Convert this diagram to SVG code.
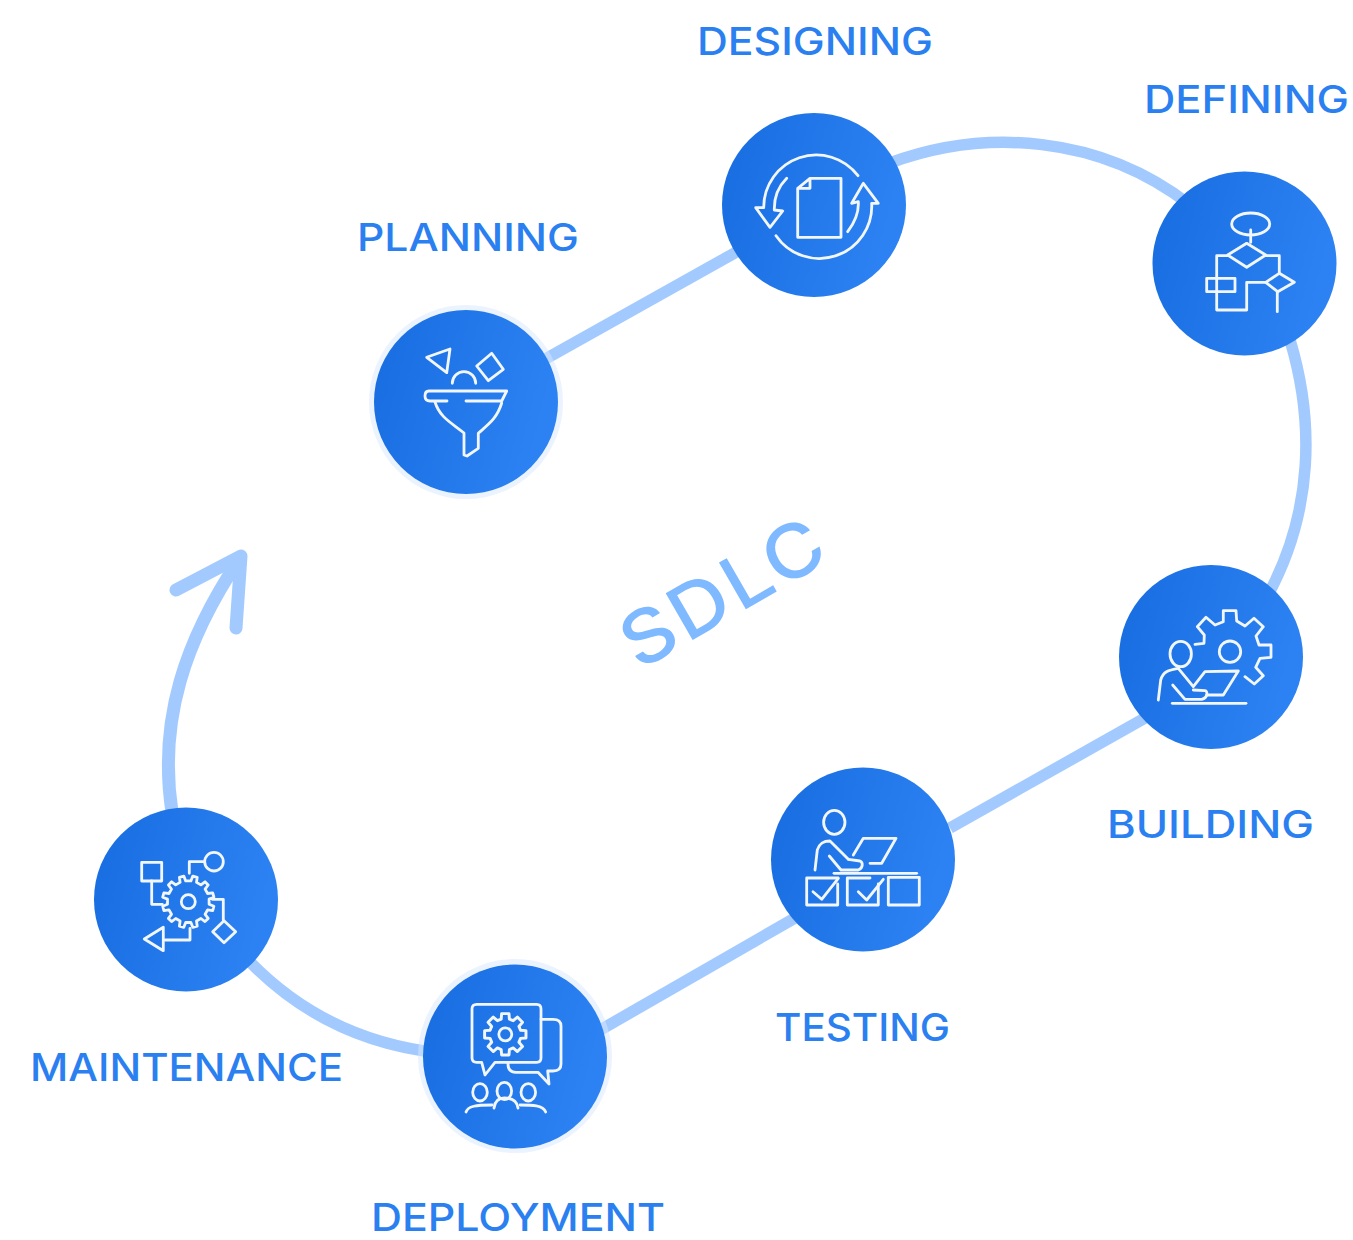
<svg xmlns="http://www.w3.org/2000/svg" width="1353" height="1240" viewBox="0 0 1353 1240">
<style>
.lbl{font-family:"Inter","Open Sans","Liberation Sans",sans-serif;font-size:38px;font-weight:550;fill:#2a80f0}
.sdlc{font-family:"Inter","Open Sans","Liberation Sans",sans-serif;font-size:74px;font-weight:550;letter-spacing:3px;fill:#7fb9ff}
.conn{fill:none;stroke:#a3caff;stroke-width:11.5}
.arr{stroke-width:13;stroke-linecap:round;stroke-linejoin:round}
.ic{fill:none;stroke:#f2f7ff;stroke-width:2.8;stroke-linejoin:round;stroke-linecap:round}
.halo{fill:#d8e8ff;opacity:.5}
</style>
<defs>
<linearGradient id="g" x1="0" y1="0" x2="1" y2="0.25"><stop offset="0" stop-color="#176ce0"/><stop offset="1" stop-color="#2c82f2"/></linearGradient>
</defs>
<rect width="1353" height="1240" fill="#fff"/>
<g id="connectors">
<path class="conn" d="M540,362L740,250"/>
<path class="conn" d="M890,163C985,128 1100,135 1190,205"/>
<path class="conn" d="M1290,340C1314,420 1314,510 1268,595"/>
<path class="conn" d="M1145,718L950,828"/>
<path class="conn" d="M795,918L595,1033"/>
<path class="conn" d="M440,1053C355,1044 295,1008 250,962"/>
<path class="conn arr" d="M172,812C158,720 185,640 240,558"/>
<path class="conn arr" d="M176,590L241,556L236,628"/>
</g>
<text class="sdlc" x="639" y="671" transform="rotate(-30 639 671)" textLength="226" lengthAdjust="spacingAndGlyphs">SDLC</text>
<g id="planning">
<circle class="halo" cx="466" cy="402" r="97"/><circle cx="466" cy="402" r="92" fill="url(#g)"/>
<g class="ic">
<path d="M426.7,357.3L450,349L446.7,372.7Z"/>
<path d="M491.7,353.3L503.3,369.3L488.3,380.7L476.7,366Z"/>
<path d="M452.3,383.3A11.7,11.7 0 0 1 475.7,383.3"/>
<path d="M447,401H430Q425,401 425,396Q425,391 429,391H506.7L501.7,401H466"/>
<path d="M435,402C440,418 452,423 464,433V455L467,456L478.3,448.3V433.3C490,423 497,418 501.7,403"/>
</g>
<text class="lbl" x="357" y="251" textLength="222" lengthAdjust="spacingAndGlyphs">PLANNING</text>
</g>
<g id="designing">
<circle cx="814" cy="205" r="92" fill="url(#g)"/>
<g class="ic">
<path d="M858,175.7A52.5,52.5 0 0 0 763.7,207.7H755.7L770,227.3L782.7,211L774.3,210C774,198 778,187 786.7,178.3"/>
<path d="M776,235.7A52.5,52.5 0 0 0 871.7,203.3H878.3L863.3,183.3L851.7,203.3L858.3,201.7C859,212 855,222 847.7,231.7"/>
<path d="M810,178.3H841V237.3H797.7V188.3ZM810,178.3V188.3H797.7"/>
</g>
<text class="lbl" x="697" y="55" textLength="236" lengthAdjust="spacingAndGlyphs">DESIGNING</text>
</g>
<g id="defining">
<circle cx="1244.5" cy="263.5" r="92" fill="url(#g)"/>
<g class="ic">
<ellipse cx="1250.7" cy="224" rx="19" ry="11"/>
<path d="M1250.7,230V242.3"/>
<path d="M1246.7,243.3L1265.7,255L1246.7,267.3L1227.7,255Z"/>
<path d="M1227.7,255.7H1216.7V310H1246.7V282.3H1265.7"/>
<rect x="1206.7" y="278.3" width="28.3" height="13.4"/>
<path d="M1265.7,255.7H1279.3V273.3"/>
<path d="M1279.3,273.3L1294.3,282.3L1277.7,291.7L1265.7,282.3Z"/>
<path d="M1277.3,291.7V311.7"/>
</g>
<text class="lbl" x="1144" y="113" textLength="205" lengthAdjust="spacingAndGlyphs">DEFINING</text>
</g>
<g id="building">
<circle cx="1211" cy="657" r="92" fill="url(#g)"/>
<g class="ic">
<circle cx="1230" cy="651.7" r="10.7"/>
<path d="M1195,644.3L1204,643.3L1204.3,635L1197.3,626.7L1206,617.3L1215,625L1223.3,621.7V610.7H1236L1236.7,621L1245,626L1254,618.3L1263.3,626.7L1256,636L1259,645H1271V657.3L1260,658.3L1255.7,667.3L1263.3,675.7L1254.3,684L1245,676.7"/>
<ellipse cx="1180.7" cy="654" rx="10.7" ry="12.7"/>
<path d="M1158.3,700L1160.7,680C1163,672 1168,670 1178.3,668.3L1193.3,686.7L1205,671.7L1238.3,671L1223.3,695H1206.7"/>
<path d="M1172.7,685L1185,699.3H1201.7C1208,698 1208,691 1205,690.7L1193.3,690"/>
<path d="M1172.3,703.3H1246"/>
</g>
<text class="lbl" x="1107" y="838" textLength="207" lengthAdjust="spacingAndGlyphs">BUILDING</text>
</g>
<g id="testing">
<circle cx="863" cy="859.5" r="92" fill="url(#g)"/>
<g class="ic">
<ellipse cx="834.3" cy="822.3" rx="10.7" ry="12"/>
<path d="M815,870L817.3,850C820,842 825,841 830,841L848.3,859.3"/>
<path d="M829.3,856L841,870H858.3C863.5,868 863,862 860,861L848.3,859.3"/>
<path d="M853.3,855L863.3,838.3H896L881.7,863.3H870"/>
<path d="M834,873.3H916.7"/>
<path d="M838,878H806.7V905H837.7V884"/>
<path d="M813,891.7L821.7,899.3L838.3,878.3"/>
<path d="M870,878H847.3V905H878.3V884"/>
<path d="M858.3,891.7L866.7,900L883.3,879.3"/>
<rect x="888.3" y="877.3" width="31" height="27.7"/>
</g>
<text class="lbl" x="775" y="1041" textLength="175" lengthAdjust="spacingAndGlyphs">TESTING</text>
</g>
<g id="deployment">
<circle class="halo" cx="515" cy="1056" r="97"/><circle cx="515" cy="1056.5" r="92" fill="url(#g)"/>
<g class="ic">
<path d="M476.7,1004.3H536.7Q541,1004.3 541,1009V1058Q541,1062.3 536.7,1062.3H495L485,1075L481.7,1062.3H476.7Q472,1062.3 472,1058V1009Q472,1004.3 476.7,1004.3Z"/>
<path d="M541,1019.3H553Q561,1019.3 561,1026V1064Q561,1071 553,1071H547.7L549,1084L538,1072.3H516Q508,1072.3 508,1064V1062.3"/>
<path transform="translate(505.3 1034.3) scale(1.05)" d="M19.7,-3.5L19.7,3.5L14.5,3.9L13,7.5L16.4,11.5L11.5,16.4L7.5,13L3.9,14.5L3.5,19.7L-3.5,19.7L-3.9,14.5L-7.5,13L-11.5,16.4L-16.4,11.5L-13,7.5L-14.5,3.9L-19.7,3.5L-19.7,-3.5L-14.5,-3.9L-13,-7.5L-16.4,-11.5L-11.5,-16.4L-7.5,-13L-3.9,-14.5L-3.5,-19.7L3.5,-19.7L3.9,-14.5L7.5,-13L11.5,-16.4L16.4,-11.5L13,-7.5L14.5,-3.9Z"/>
<circle cx="505.3" cy="1034.3" r="6.5"/>
<ellipse cx="480" cy="1092.3" rx="7.3" ry="8.7"/>
<ellipse cx="504.3" cy="1091" rx="7.3" ry="8.7"/>
<ellipse cx="528.3" cy="1092.3" rx="7.3" ry="8.7"/>
<path d="M466,1112C468,1106 476,1105 492,1105"/>
<path d="M494,1108C495,1100 500,1098 504.3,1098C510,1098 517,1100 518,1108"/>
<path d="M520,1105C532,1105 543,1105 545.7,1112"/>
</g>
<text class="lbl" x="371" y="1231" textLength="294" lengthAdjust="spacingAndGlyphs">DEPLOYMENT</text>
</g>
<g id="maintenance">
<circle cx="186" cy="899.5" r="92" fill="url(#g)"/>
<g class="ic">
<rect x="141.7" y="862.3" width="20" height="18.7"/>
<path d="M151.7,881V904.3H162.3"/>
<circle cx="214" cy="861.7" r="9.3"/>
<path d="M204.7,861.7H189.3V873.3"/>
<path transform="translate(188.3 901.7)" d="M20.8,2.6L25.6,4.5L24.4,8.9L19.3,8.2L16.8,12.6L19.9,16.7L16.7,19.9L12.6,16.8L8.2,19.3L8.9,24.4L4.5,25.6L2.6,20.8L-2.6,20.8L-4.5,25.6L-8.9,24.4L-8.2,19.3L-12.6,16.8L-16.7,19.9L-19.9,16.7L-16.8,12.6L-19.3,8.2L-24.4,8.9L-25.6,4.5L-20.8,2.6L-20.8,-2.6L-25.6,-4.5L-24.4,-8.9L-19.3,-8.2L-16.8,-12.6L-19.9,-16.7L-16.7,-19.9L-12.6,-16.8L-8.2,-19.3L-8.9,-24.4L-4.5,-25.6L-2.6,-20.8L2.6,-20.8L4.5,-25.6L8.9,-24.4L8.2,-19.3L12.6,-16.8L16.7,-19.9L19.9,-16.7L16.8,-12.6L19.3,-8.2L24.4,-8.9L25.6,-4.5L20.8,-2.6Z"/>
<circle cx="188.3" cy="901.7" r="7"/>
<path d="M212.3,899.3H223.3V920"/>
<path d="M224,920.7L235.7,931.7L224,942.7L212.7,931.7Z"/>
<path d="M144.3,939L163.3,927.3V950.7Z"/>
<path d="M165,940H190V928.3"/>
</g>
<text class="lbl" x="30" y="1081" textLength="313" lengthAdjust="spacingAndGlyphs">MAINTENANCE</text>
</g>
</svg>
